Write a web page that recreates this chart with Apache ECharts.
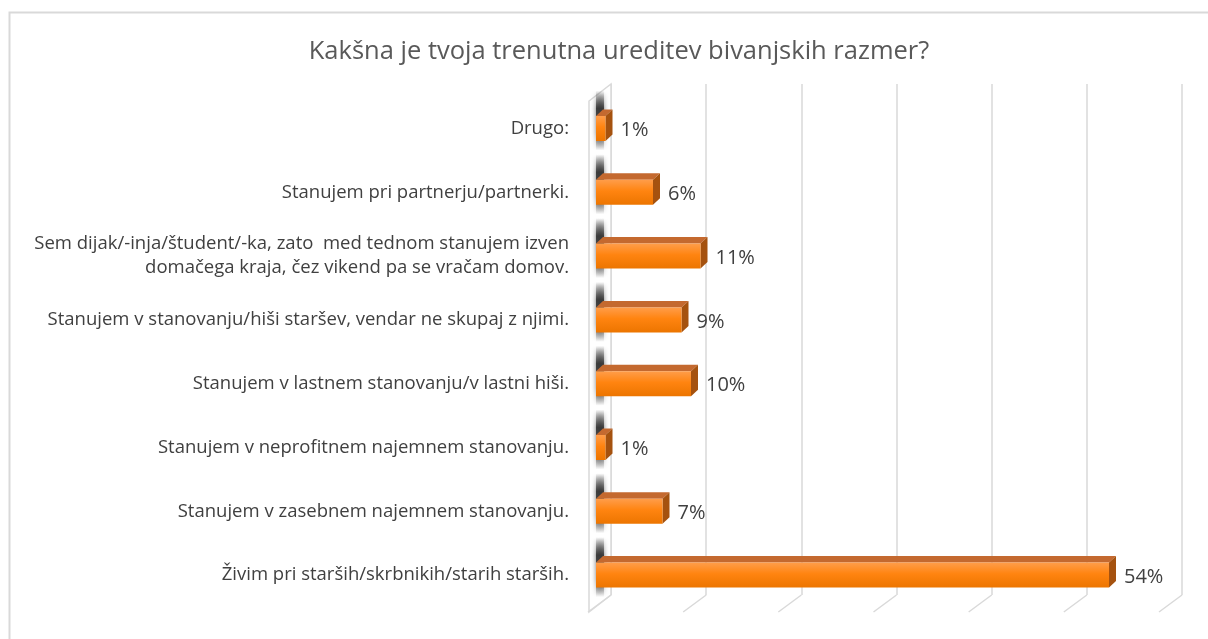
<!DOCTYPE html>
<html>
<head>
<meta charset="utf-8">
<title>Bivanjske razmere</title>
<script src="https://cdn.jsdelivr.net/npm/echarts@6/dist/echarts.min.js"></script>
<style>
  html, body { margin: 0; padding: 0; background: #fff; }
  #main { width: 1208px; height: 639px; }
</style>
</head>
<body>
<div id="main"></div>
<script>
// podatki (od spodaj navzgor, kot na kategorični osi)
var categories = [
  "Živim pri starših/skrbnikih/starih starših.",
  "Stanujem v zasebnem najemnem stanovanju.",
  "Stanujem v neprofitnem najemnem stanovanju.",
  "Stanujem v lastnem stanovanju/v lastni hiši.",
  "Stanujem v stanovanju/hiši staršev, vendar ne skupaj z njimi.",
  "Sem dijak/-inja/študent/-ka, zato  med tednom stanujem izven\ndomačega kraja, čez vikend pa se vračam domov.",
  "Stanujem pri partnerju/partnerki.",
  "Drugo:"
];
var values = [54, 7, 1, 10, 9, 11, 6, 1];
var gridTicks = [0, 10, 20, 30, 40, 50, 60];

var textColor = "#404040";
var lineColor = "#d9d9d9";
var font = "'Open Sans', 'DejaVu Sans', sans-serif";

// 3D globina
var DX = 7, DY = 6.5, BAR_H = 25;

function renderBar(params, api) {
  var v = api.value(0);
  var start = api.coord([0, api.value(1)]);
  var end = api.coord([v, api.value(1)]);
  var x0 = start[0], x1 = end[0];
  var yT = end[1] - BAR_H / 2, yB = end[1] + BAR_H / 2;
  return {
    type: "group",
    children: [
      { // senca na steni
        type: "rect",
        shape: { x: x0, y: end[1] - 38, width: 8, height: 60 },
        style: {
          fill: new echarts.graphic.LinearGradient(0, 0, 0, 1, [
            { offset: 0, color: "rgba(50,50,50,0)" },
            { offset: 0.3, color: "rgba(50,50,50,0.9)" },
            { offset: 0.7, color: "rgba(50,50,50,0.75)" },
            { offset: 1, color: "rgba(50,50,50,0)" }
          ]),
          shadowBlur: 5,
          shadowColor: "rgba(50,50,50,0.8)"
        },
        z2: 1
      },
      { // zgornja ploskev
        type: "polygon",
        shape: { points: [[x0, yT], [x1, yT], [x1 + DX, yT - DY], [x0 + DX, yT - DY]] },
        style: { fill: "#c4692f" },
        z2: 3
      },
      { // desna ploskev
        type: "polygon",
        shape: { points: [[x1, yT], [x1 + DX, yT - DY], [x1 + DX, yB - DY], [x1, yB]] },
        style: { fill: "#a5520f" },
        z2: 3
      },
      { // sprednja ploskev
        type: "rect",
        shape: { x: x0, y: yT, width: x1 - x0, height: BAR_H },
        style: {
          fill: new echarts.graphic.LinearGradient(0, 0, 0, 1, [
            { offset: 0, color: "#ff9d4a" },
            { offset: 0.45, color: "#ff8410" },
            { offset: 1, color: "#ec7500" }
          ])
        },
        z2: 4
      },
      {
        type: "text",
        style: {
          x: x1 + DX + 8,
          y: end[1] + 2,
          text: v + "%",
          fill: textColor,
          font: "20px " + font,
          verticalAlign: "middle",
          align: "left"
        },
        z2: 5
      }
    ]
  };
}

function renderWall(params, api) {
  var cs = params.coordSys;
  var x = cs.x, y = cs.y, h = cs.height;
  return {
    type: "polygon",
    shape: { points: [[x, y], [x, y + h], [x - 22, y + h + 17], [x - 22, y + 17]] },
    style: { fill: "#fff", stroke: lineColor, lineWidth: 1.5 }
  };
}

function renderFloorLine(params, api) {
  var cs = params.coordSys;
  var p = api.coord([api.value(0), 0]);
  var yb = cs.y + cs.height;
  return {
    type: "line",
    shape: { x1: p[0], y1: yb, x2: p[0] - 23, y2: yb + 17 },
    style: { stroke: lineColor, lineWidth: 1.5 }
  };
}

var myChart = echarts.init(document.getElementById("main"));
myChart.setOption({
  animation: false,
  title: {
    text: "Kakšna je tvoja trenutna ureditev bivanjskih razmer?",
    left: 614,
    textAlign: "center",
    top: 34,
    textStyle: { color: "#595959", fontSize: 25.5, fontWeight: "normal", fontFamily: font }
  },
  graphic: [{
    type: "rect",
    shape: { x: 9.5, y: 12.5, width: 1400, height: 800 },
    style: { fill: "none", stroke: lineColor, lineWidth: 2 },
    silent: true
  }],
  grid: [
    // ravnina sprednjih ploskev stolpcev
    { left: 596, right: 42, top: 96.6, bottom: 32 },
    // zadnja stena z mrežo
    { left: 611, right: 26, top: 84, bottom: 44 }
  ],
  xAxis: [
    { gridIndex: 0, type: "value", min: 0, max: 60, interval: 10,
      axisLine: { show: false }, axisTick: { show: false },
      axisLabel: { show: false }, splitLine: { show: false } },
    { gridIndex: 1, type: "value", min: 0, max: 60, interval: 10,
      axisLine: { show: false }, axisTick: { show: false },
      axisLabel: { show: false },
      splitLine: { show: true, lineStyle: { color: lineColor, width: 1.5 } } }
  ],
  yAxis: [
    { gridIndex: 0, type: "category", data: categories,
      axisLine: { show: false }, axisTick: { show: false },
      axisLabel: { margin: 27, color: textColor, fontSize: 18.5, fontFamily: font, lineHeight: 24, align: "right" } },
    { gridIndex: 1, type: "category", data: categories,
      axisLine: { show: false }, axisTick: { show: false }, axisLabel: { show: false } }
  ],
  series: [
    {
      type: "custom", xAxisIndex: 1, yAxisIndex: 1,
      renderItem: renderWall, data: [[0, 0]], z: 1, silent: true
    },
    {
      type: "custom", xAxisIndex: 1, yAxisIndex: 1,
      renderItem: renderFloorLine,
      data: gridTicks.map(function (t) { return [t, 0]; }),
      z: 1, silent: true
    },
    {
      type: "custom", xAxisIndex: 0, yAxisIndex: 0,
      renderItem: renderBar,
      encode: { x: 0, y: 1 },
      data: values.map(function (v, i) { return [v, i]; }),
      z: 3
    }
  ]
});
</script>
</body>
</html>
